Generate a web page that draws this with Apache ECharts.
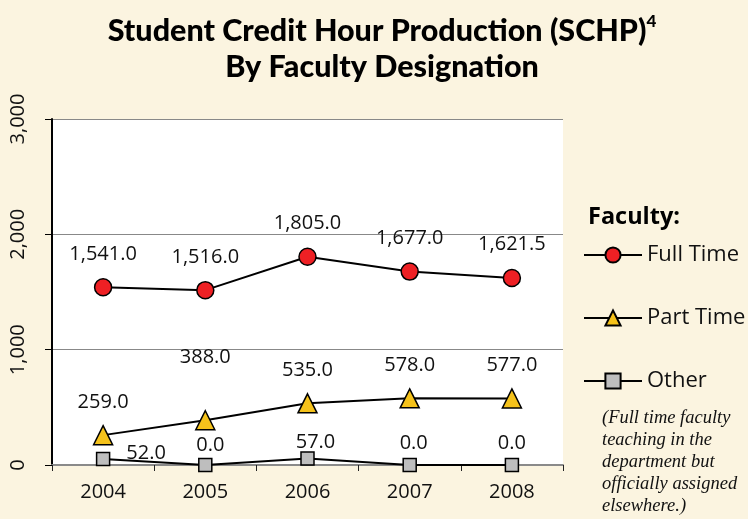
<!DOCTYPE html>
<html>
<head>
<meta charset="utf-8">
<script src="https://cdn.jsdelivr.net/npm/echarts@6/dist/echarts.min.js"></script>
<style>
html,body{margin:0;padding:0;background:#FBF4E0;}
#chart{width:748px;height:519px;}
</style>
</head>
<body>
<div id="chart"></div>
<script>
const years = ['2004', '2005', '2006', '2007', '2008'];
const fullTime = [1541.0, 1516.0, 1805.0, 1677.0, 1621.5];
const partTime = [259.0, 388.0, 535.0, 578.0, 577.0];
const other = [52.0, 0.0, 57.0, 0.0, 0.0];
const yTicks = [0, 1000, 2000, 3000];
const noteLines = ['(Full time faculty', 'teaching in the', 'department but', 'officially assigned', 'elsewhere.)'];

const fmt = v => v.toLocaleString('en-US', {minimumFractionDigits: 1, maximumFractionDigits: 1});
const fmtAxis = v => v.toLocaleString('en-US');

const labelFont = {fontFamily: 'Open Sans', fontSize: 20, color: '#111', lineHeight: 22};

// per-point label adjustments (styling only)
const partTimeLabelAdj = {1: {offset: [0, -30]}};
const otherLabelAdj = {
  0: {position: 'right', distance: 16, offset: [0, -6]},
  1: {offset: [5, 2]},
  2: {offset: [8, 5]},
  3: {offset: [4, 0]},
  4: {offset: [0, 0]}
};

function build(values, adj) {
  return values.map((v, i) => adj && adj[i] ? {value: v, label: adj[i]} : v);
}

const chart = echarts.init(document.getElementById('chart'));
chart.setOption({
  backgroundColor: '#FBF4E0',
  animation: false,
  title: {
    left: 377,
    textAlign: 'center',
    top: 8,
    text: '{a|Student Credit Hour Production (SCHP)}{s|4}\n{a|By Faculty Designation}',
    textStyle: {
      rich: {
        a: {fontFamily: 'Lato', fontWeight: 900, fontSize: 30.5, color: '#000', lineHeight: 36},
        s: {fontFamily: 'Lato', fontWeight: 900, fontSize: 17, color: '#000', verticalAlign: 'top', lineHeight: 36}
      }
    }
  },
  grid: {left: 52, top: 119, right: 185, bottom: 54, backgroundColor: '#fff', show: true, borderWidth: 0},
  legend: {
    orient: 'vertical',
    left: 583,
    top: 243,
    padding: 0,
    itemWidth: 58,
    itemHeight: 19,
    itemGap: 39,
    textStyle: {fontFamily: 'Open Sans', fontSize: 22, color: '#111', lineHeight: 24, padding: [0, 0, 0, 0]},
    data: ['Full Time', 'Part Time', 'Other']
  },
  graphic: [
    {type: 'text', left: 588, top: 205, style: {text: 'Faculty:', fontFamily: 'Open Sans', fontWeight: 'bold', fontSize: 23.5, fill: '#000'}},
    {type: 'text', left: 602, top: 407, style: {text: noteLines.join('\n'), fontFamily: 'Liberation Serif', fontStyle: 'italic', fontSize: 18.5, lineHeight: 22, fill: '#111'}}
  ],
  xAxis: {
    type: 'category',
    data: years,
    boundaryGap: true,
    axisLine: {lineStyle: {color: '#8a8a8a', width: 2}},
    axisTick: {show: true, length: 6, lineStyle: {color: '#222', width: 1}},
    axisLabel: {fontFamily: 'Open Sans', fontSize: 20, color: '#111', margin: 17}
  },
  yAxis: {
    type: 'value',
    min: yTicks[0],
    max: yTicks[yTicks.length - 1],
    interval: 1000,
    axisLine: {show: true, lineStyle: {color: '#000', width: 2}},
    axisTick: {show: true, length: 7, lineStyle: {color: '#000', width: 1}},
    splitLine: {lineStyle: {color: '#888', width: 1}},
    axisLabel: {fontFamily: 'Open Sans', fontSize: 20, color: '#111', rotate: 90, margin: 24, formatter: fmtAxis}
  },
  series: [
    {
      name: 'Full Time', type: 'line', data: build(fullTime),
      symbol: 'circle', symbolSize: 17,
      lineStyle: {color: '#000', width: 2},
      itemStyle: {color: '#EE2024', borderColor: '#000', borderWidth: 1.5},
      label: Object.assign({show: true, position: 'top', distance: 13, formatter: p => fmt(p.value)}, labelFont),
      z: 4
    },
    {
      name: 'Part Time', type: 'line', data: build(partTime, partTimeLabelAdj),
      symbol: 'triangle', symbolSize: 19,
      lineStyle: {color: '#000', width: 2},
      itemStyle: {color: '#F5C21B', borderColor: '#000', borderWidth: 1.5},
      label: Object.assign({show: true, position: 'top', distance: 12, formatter: p => fmt(p.value)}, labelFont),
      z: 3
    },
    {
      name: 'Other', type: 'line', data: build(other, otherLabelAdj),
      symbol: 'rect', symbolSize: 13,
      lineStyle: {color: '#000', width: 2},
      itemStyle: {color: '#BEBEBE', borderColor: '#000', borderWidth: 1.5},
      label: Object.assign({show: true, position: 'top', distance: 3, formatter: p => fmt(p.value)}, labelFont),
      z: 5
    }
  ]
});
</script>
</body>
</html>
